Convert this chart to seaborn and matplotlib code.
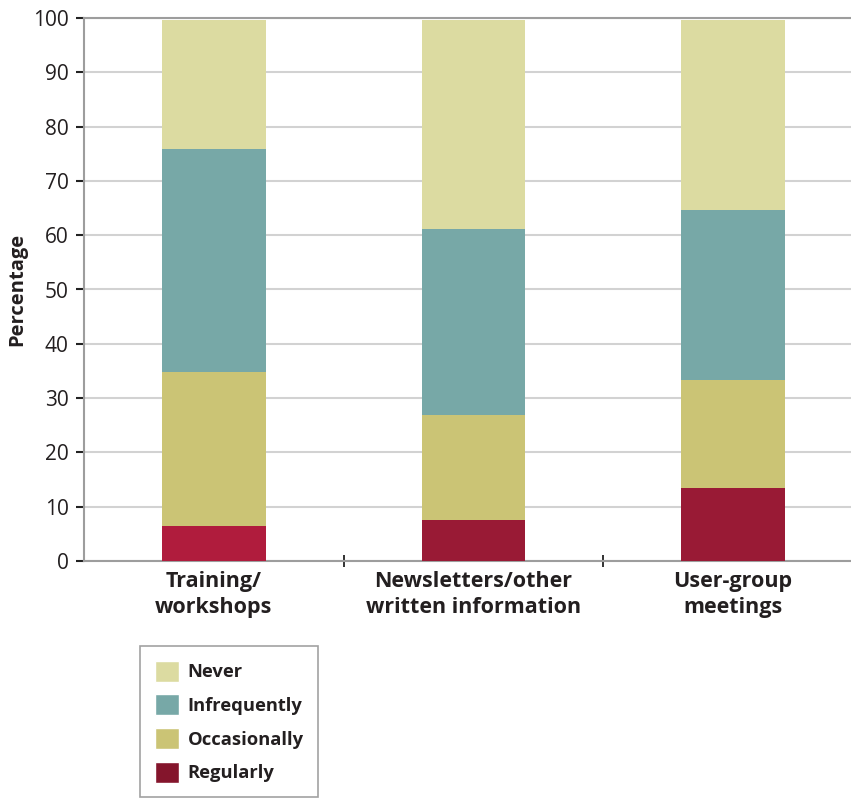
import matplotlib.pyplot as plt
import seaborn as sns
import numpy as np
from matplotlib.patches import Patch

# data (percent)
categories = ['Training/\nworkshops', 'Newsletters/other\nwritten information', 'User-group\nmeetings']
regularly = [6.4, 7.6, 13.4]
occasionally = [28.4, 19.3, 19.9]
infrequently = [41.1, 34.2, 31.3]
never = [23.7, 38.5, 35.0]

levels = ['Never', 'Infrequently', 'Occasionally', 'Regularly']
level_colors = {'Never': '#dcdba1', 'Infrequently': '#77a8a7',
                'Occasionally': '#cbc475', 'Regularly': '#84152c'}
regular_bar_colors = ['#b01c3d', '#991a35', '#991a35']

sns.set_theme(style='white')
plt.rcParams['font.family'] = ['Open Sans', 'DejaVu Sans']

fig = plt.figure(figsize=(8.51, 8.05), dpi=100)
ax = fig.add_axes([84 / 851, 1 - 561 / 805, 779 / 851, 543 / 805])

# stacked bars: draw cumulative totals from the top layer down
stack = np.array([regularly, occasionally, infrequently, never])
cum = np.cumsum(stack, axis=0)

bar_kw = dict(width=0.4, saturation=1, linewidth=0, edgecolor='none', ax=ax, zorder=3)
sns.barplot(x=categories, y=cum[3], color=level_colors['Never'], **bar_kw)
sns.barplot(x=categories, y=cum[2], color=level_colors['Infrequently'], **bar_kw)
sns.barplot(x=categories, y=cum[1], color=level_colors['Occasionally'], **bar_kw)
sns.barplot(x=categories, y=cum[0], hue=categories, palette=regular_bar_colors,
            legend=False, **bar_kw)

ax.set_xlim(-0.5, 2.5)
ax.set_ylim(0, 100)
ax.set_yticks(range(0, 101, 10))
ax.yaxis.grid(True, color='#d2d2d2', linewidth=1.5, zorder=0)
ax.set_axisbelow(True)

for side in ['left', 'bottom', 'top']:
    ax.spines[side].set_color('#9d9d9d')
    ax.spines[side].set_linewidth(1.5)
ax.spines['right'].set_visible(False)

ax.tick_params(axis='y', left=True, length=6, width=1.5, color='#222222',
               labelsize=15, labelcolor='#231f20', pad=5)
ax.tick_params(axis='x', which='major', length=0, labelsize=15.5, pad=7,
               labelcolor='#231f20')
ax.set_xticks([0.5, 1.5], minor=True)
ax.tick_params(axis='x', which='minor', bottom=True, length=8, width=1.3,
               direction='inout', color='#222222')
for lbl in ax.get_xticklabels():
    lbl.set_fontweight('bold')
    lbl.set_linespacing(1.3)

ax.set_xlabel('')
ax.set_ylabel('Percentage', fontsize=14.5, fontweight='bold', color='#231f20', labelpad=4)

handles = [Patch(facecolor=level_colors[l], label=l) for l in levels]
leg = fig.legend(handles=handles, loc='upper left', bbox_to_anchor=(140 / 851, 1 - 646 / 805),
                 frameon=True, fancybox=False, edgecolor='#8a8a8a',
                 prop={'weight': 'bold', 'size': 13.2}, handlelength=1.3, handleheight=1.4,
                 labelspacing=0.68, borderpad=0.8, handletextpad=0.5, borderaxespad=0)
leg.get_frame().set_linewidth(1.2)
for t in leg.get_texts():
    t.set_color('#231f20')

fig.savefig('out.png', dpi=100)
